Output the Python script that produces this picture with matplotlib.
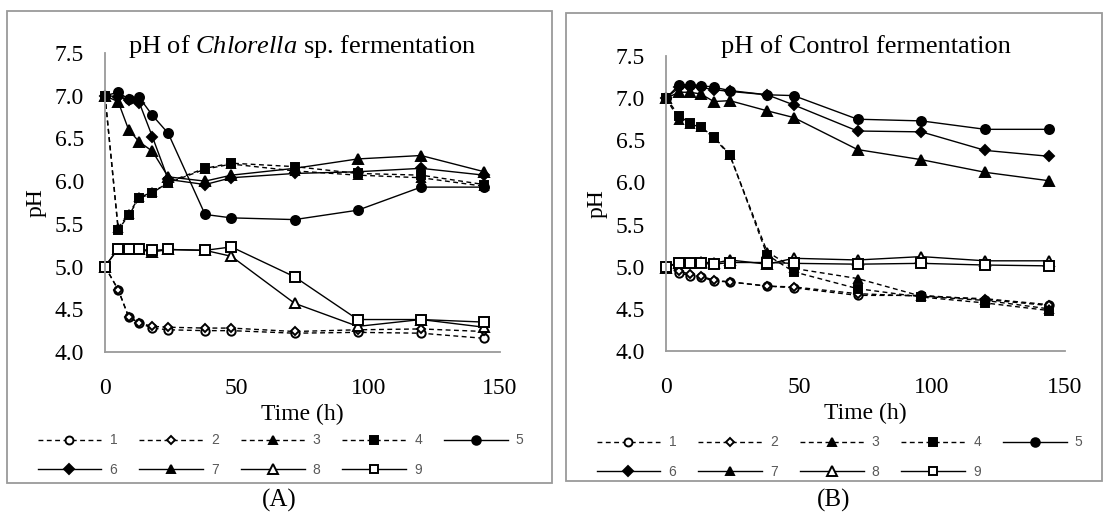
import matplotlib
matplotlib.use("Agg")
import matplotlib.pyplot as plt
from matplotlib.patches import Rectangle
from matplotlib.lines import Line2D

plt.rcParams["mathtext.fontset"] = "custom"
plt.rcParams["mathtext.rm"] = "Liberation Serif"
plt.rcParams["mathtext.it"] = "Liberation Serif:italic"

# sampling times (h), shared by both fermentations
time_h = [0, 5, 9, 13, 18, 24, 38, 48, 72, 96, 120, 144]

# (A) Chlorella sp. fermentation, pH per treatment 1..9
chl_1 = [5.00, 4.73, 4.41, 4.34, 4.28, 4.26, 4.25, 4.25, 4.22, 4.23, 4.22, 4.16]
chl_2 = [5.00, 4.73, 4.41, 4.34, 4.30, 4.29, 4.28, 4.28, 4.24, 4.26, 4.27, 4.24]
chl_3 = [7.00, 5.45, 5.62, 5.81, 5.87, 5.98, 6.14, 6.20, 6.12, 6.07, 6.04, 5.94]
chl_4 = [7.00, 5.43, 5.60, 5.80, 5.86, 5.99, 6.15, 6.21, 6.17, 6.09, 6.07, 5.96]
chl_5 = [7.00, 7.04, 6.96, 6.98, 6.77, 6.56, 5.61, 5.57, 5.55, 5.66, 5.93, 5.93]
chl_6 = [7.00, 6.99, 6.95, 6.92, 6.52, 6.02, 5.96, 6.04, 6.09, 6.11, 6.15, 6.07]
chl_7 = [7.00, 6.93, 6.60, 6.46, 6.35, 6.05, 6.00, 6.07, 6.15, 6.26, 6.30, 6.11]
chl_8 = [5.00, 5.21, 5.21, 5.20, 5.17, 5.20, 5.19, 5.12, 4.57, 4.30, 4.38, 4.29]
chl_9 = [5.00, 5.21, 5.21, 5.20, 5.19, 5.20, 5.19, 5.23, 4.88, 4.38, 4.38, 4.35]

# (B) control fermentation
ctl_1 = [5.00, 4.93, 4.89, 4.88, 4.83, 4.82, 4.77, 4.75, 4.66, 4.66, 4.61, 4.54]
ctl_2 = [5.00, 4.95, 4.91, 4.89, 4.84, 4.82, 4.77, 4.76, 4.68, 4.65, 4.62, 4.55]
ctl_3 = [7.00, 6.74, 6.69, 6.66, 6.53, 6.32, 5.18, 4.98, 4.86, 4.65, 4.60, 4.50]
ctl_4 = [7.00, 6.79, 6.70, 6.66, 6.54, 6.33, 5.14, 4.94, 4.74, 4.64, 4.57, 4.48]
ctl_5 = [7.00, 7.16, 7.16, 7.15, 7.13, 7.09, 7.04, 7.03, 6.75, 6.73, 6.63, 6.63]
ctl_6 = [7.00, 7.13, 7.13, 7.13, 7.10, 7.08, 7.04, 6.92, 6.61, 6.60, 6.38, 6.31]
ctl_7 = [7.00, 7.07, 7.07, 7.05, 6.96, 6.97, 6.85, 6.77, 6.39, 6.27, 6.12, 6.02]
ctl_8 = [4.99, 5.05, 5.05, 5.06, 5.04, 5.08, 5.03, 5.10, 5.08, 5.12, 5.07, 5.07]
ctl_9 = [5.00, 5.05, 5.05, 5.04, 5.03, 5.05, 5.05, 5.04, 5.03, 5.04, 5.02, 5.01]

series_labels = ["1", "2", "3", "4", "5", "6", "7", "8", "9"]
chlorella = [chl_1, chl_2, chl_3, chl_4, chl_5, chl_6, chl_7, chl_8, chl_9]
control = [ctl_1, ctl_2, ctl_3, ctl_4, ctl_5, ctl_6, ctl_7, ctl_8, ctl_9]

# line style, marker, filled?, marker size
STYLES = [
    ("dashed", "o", False, 6),
    ("dashed", "D", False, 4.5),
    ("dashed", "^", True, 6),
    ("dashed", "s", True, 5.5),
    ("solid", "o", True, 6.5),
    ("solid", "D", True, 5),
    ("solid", "^", True, 6.5),
    ("solid", "^", False, 7),
    ("solid", "s", False, 6.5),
]

SERIF = ["Liberation Serif", "DejaVu Serif"]
GREY = "#9a9a9a"
FS = 17
W, H = 1103, 523

fig = plt.figure(figsize=(W / 100, H / 100), dpi=100)


def fx(px):
    return px / W


def fy(py):
    return 1 - py / H


def line_kw(style, scale=1.0):
    ls, mk, filled, ms = style
    return dict(color="black", lw=1.0,
                linestyle=(0, (3.5, 2.5)) if ls == "dashed" else "-",
                marker=mk, markersize=ms * scale, markeredgewidth=1.4,
                markerfacecolor="black" if filled else "white",
                markeredgecolor="black")


def panel(box, axes_px, title, data, tag):
    # outer frame
    x0, y0, x1, y1 = box
    fig.patches.append(Rectangle((fx(x0), fy(y1)), fx(x1 - x0), fy(y0) - fy(y1),
                                 transform=fig.transFigure, fill=False,
                                 edgecolor=GREY, lw=1.3))
    l, t, r, b = axes_px
    ax = fig.add_axes([fx(l), fy(b), fx(r - l), fy(t) - fy(b)])
    for ys, st in zip(data, STYLES):
        ax.plot(time_h, ys, clip_on=False, **line_kw(st))
    ax.set_xlim(0, 150)
    ax.set_ylim(4.0, 7.5)
    ax.set_xticks([0, 50, 100, 150])
    ax.set_yticks([4.0, 4.5, 5.0, 5.5, 6.0, 6.5, 7.0, 7.5])
    ax.set_yticklabels([f"{v:.1f}" for v in ax.get_yticks()])
    for s in ("top", "right"):
        ax.spines[s].set_visible(False)
    for s in ("left", "bottom"):
        ax.spines[s].set_color(GREY)
        ax.spines[s].set_linewidth(1.3)
    ax.tick_params(length=0, labelsize=FS)
    ax.tick_params(axis="x", pad=19)
    ax.tick_params(axis="y", pad=15)
    for lab in ax.get_xticklabels() + ax.get_yticklabels():
        lab.set_family(SERIF)
    ax.set_xlabel("Time (h)", fontsize=FS, family=SERIF, labelpad=3)
    ax.set_ylabel("pH", fontsize=FS, family=SERIF, labelpad=6)
    # chart title sits inside the plot frame, level with the top tick
    fig.text(fx((l + r) / 2), fy(47), title, ha="center", va="center",
             fontsize=19, family=SERIF)

    # legend rows read 1-5 then 6-9; matplotlib fills column by column
    order = [0, 5, 1, 6, 2, 7, 3, 8, 4]
    handles = [Line2D([0], [0], label=series_labels[i], **line_kw(STYLES[i], 0.95))
               for i in order]
    leg = fig.legend(handles=handles, ncol=5, loc="upper left",
                     bbox_to_anchor=(fx(x0 + 18), fy(y0 + 410)),
                     frameon=False, handlelength=4.6, handletextpad=0.6,
                     columnspacing=1.55, labelspacing=1.1,
                     prop={"family": "Liberation Sans", "size": 10})
    for txt in leg.get_texts():
        txt.set_color("#595959")
    fig.text(fx((x0 + x1) / 2), fy(500), tag, ha="center", va="center",
             fontsize=18, family=SERIF)
    return ax


panel((7, 11, 552, 483), (105, 53, 500, 352),
      r"pH of $\mathit{Chlorella}$ sp. fermentation", chlorella, "(A)")
panel((566, 13, 1102, 481), (666, 56, 1065, 351),
      "pH of Control fermentation", control, "(B)")

fig.savefig("out.png", dpi=100)
